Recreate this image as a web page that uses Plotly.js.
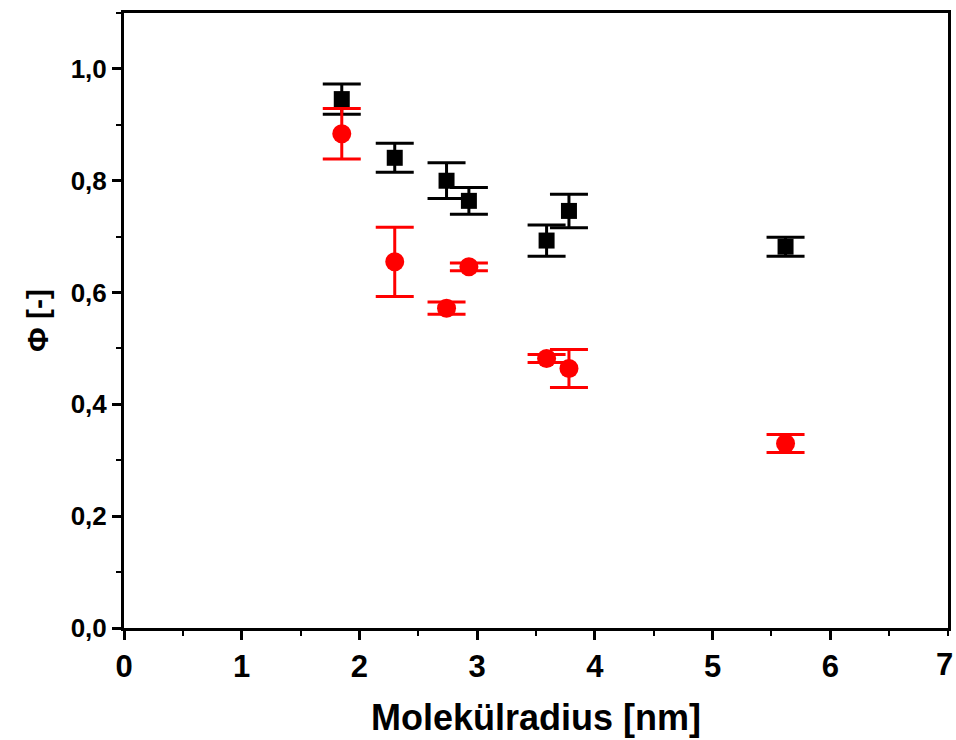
<!DOCTYPE html>
<html>
<head>
<meta charset="utf-8">
<script src="https://cdn.plot.ly/plotly-3.0.1.min.js"></script>
<style>html,body{margin:0;padding:0;background:#fff;}#chart{width:956px;height:740px;}</style>
</head>
<body>
<div id="chart"></div>
<script>
// Black squares
const xBlack = [1.85, 2.30, 2.74, 2.93, 3.59, 3.78, 5.62];
const yBlack = [0.946, 0.841, 0.800, 0.764, 0.693, 0.746, 0.682];
const errBlack = [0.027, 0.026, 0.032, 0.024, 0.028, 0.030, 0.017];
// Red circles
const xRed = [1.85, 2.30, 2.74, 2.93, 3.59, 3.78, 5.62];
const yRed = [0.884, 0.655, 0.572, 0.646, 0.482, 0.464, 0.330];
const errRed = [0.045, 0.062, 0.011, 0.007, 0.007, 0.034, 0.016];

const xTickVals = [0, 1, 2, 3, 4, 5, 6, 7];
const xTickText = ['0', '1', '2', '3', '4', '5', '6', '7'];
const yTickVals = [0, 0.2, 0.4, 0.6, 0.8, 1.0];
const yTickText = ['0,0', '0,2', '0,4', '0,6', '0,8', '1,0'];

const xFont = {family: 'Liberation Sans Narrow, Arial Narrow, Liberation Sans', size: 31, color: '#000', weight: 'bold'};

const traces = [
  {
    x: xBlack, y: yBlack, type: 'scatter', mode: 'markers',
    marker: {symbol: 'square', size: 16, color: '#000'},
    error_y: {type: 'data', array: errBlack, visible: true, color: '#000', thickness: 3, width: 19},
    showlegend: false
  },
  {
    x: xRed, y: yRed, type: 'scatter', mode: 'markers',
    marker: {symbol: 'circle', size: 19, color: '#ff0000'},
    error_y: {type: 'data', array: errRed, visible: true, color: '#ff0000', thickness: 3, width: 19},
    showlegend: false
  }
];

const lastIdx = xTickVals.length - 1;
const layout = {
  width: 956, height: 740,
  margin: {l: 124, r: 8, t: 13, b: 112},
  paper_bgcolor: '#fff', plot_bgcolor: '#fff',
  xaxis: {
    range: [0, 7], tickvals: xTickVals.slice(0, lastIdx), ticktext: xTickText.slice(0, lastIdx),
    showgrid: false, zeroline: false,
    showline: true, linecolor: '#000', linewidth: 3, mirror: true,
    ticks: 'outside', ticklen: 9, tickwidth: 3, tickcolor: '#000',
    minor: {dtick: 0.5, ticks: 'outside', ticklen: 5, tickwidth: 2, tickcolor: '#000'},
    tickfont: xFont,
    title: {text: '<b>Molekülradius [nm]</b>', font: {family: 'Liberation Sans Narrow, Arial Narrow, Liberation Sans', size: 36, color: '#000'}, standoff: 22}
  },
  yaxis: {
    range: [0, 1.1], tickvals: yTickVals, ticktext: yTickText,
    showgrid: false, zeroline: false,
    showline: true, linecolor: '#000', linewidth: 3, mirror: true,
    ticks: 'outside', ticklen: 9, tickwidth: 3, tickcolor: '#000',
    minor: {dtick: 0.1, ticks: 'outside', ticklen: 5, tickwidth: 2, tickcolor: '#000'},
    tickfont: {family: 'Liberation Sans, Arial', size: 26, color: '#000', weight: 'bold'},
    title: {text: '<b>Φ [-]</b>', font: {family: 'Liberation Sans, Arial', size: 30, color: '#000'}, standoff: 14}
  },
  annotations: [
    {x: xTickVals[lastIdx], y: 0, xref: 'x', yref: 'paper', text: '<b>' + xTickText[lastIdx] + '</b>',
     showarrow: false, xanchor: 'center', yanchor: 'top', yshift: -17, xshift: -4, font: xFont}
  ]
};

Plotly.newPlot('chart', traces, layout, {displayModeBar: false, staticPlot: true});
</script>
</body>
</html>
